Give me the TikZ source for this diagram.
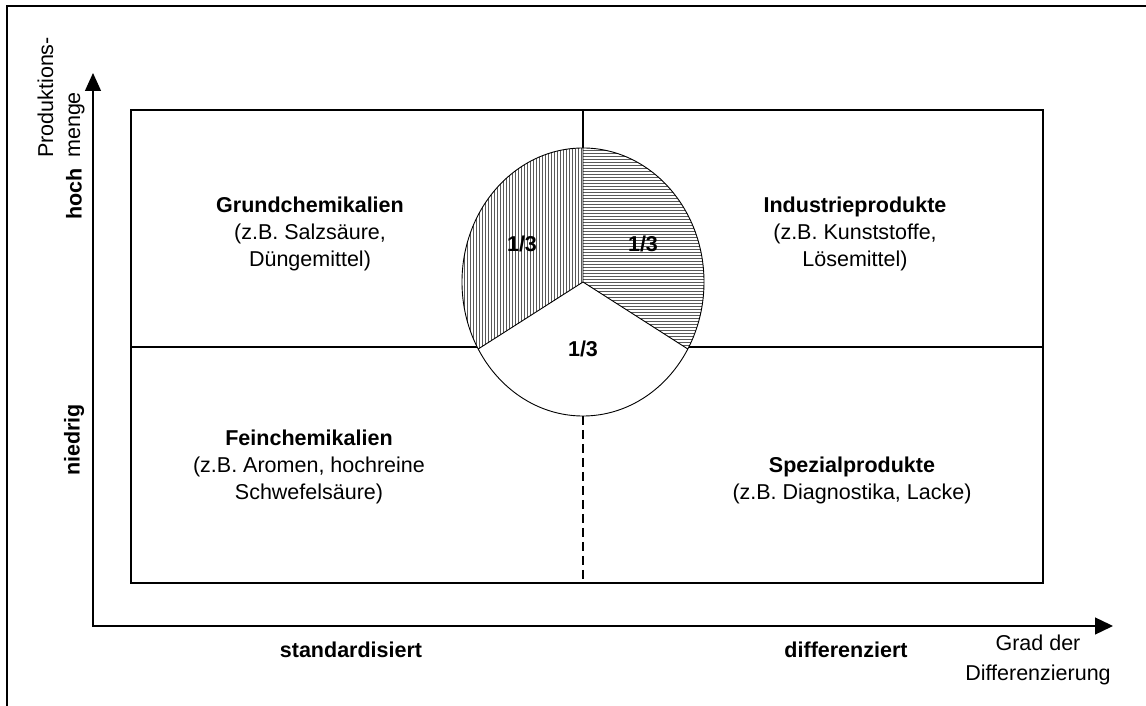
\documentclass[tikz,border=0pt]{standalone}
\usepackage{fontspec}
\setmainfont{Liberation Sans}
\usetikzlibrary{arrows.meta}
\begin{document}
\begin{tikzpicture}[x=1pt,y=1pt,
  txt/.style={font=\fontsize{21.5}{27}\selectfont, align=center, inner sep=0pt},
  btxt/.style={font=\fontsize{21.5}{27}\selectfont\bfseries, inner sep=0pt},
  axisline/.style={line width=1.3pt,
    {Triangle[length=18pt,width=16pt]}-{Triangle[length=18pt,width=17pt]}},
  boxline/.style={line width=1.5pt},
  midline/.style={line width=1.3pt},
  pieline/.style={line width=0.9pt},
  hatch/.style={line width=0.45pt, black!65},
]
\useasboundingbox (0,0) rectangle (1146,706);

% outer frame (top and left edge)
\draw[line width=2.4pt] (7,0) -- (7,700) -- (1146,700);

% axes
\coordinate (origin) at (93,80);
\coordinate (ytip) at (93,633);
\coordinate (xtip) at (1113,80);
\draw[axisline] (ytip) -- (origin) -- (xtip);

% portfolio matrix
\coordinate (boxsw) at (131,123);
\coordinate (boxne) at (1043,596);
\coordinate (midw) at (131,359);
\coordinate (mide) at (1043,359);
\coordinate (midn) at (583,596);
\coordinate (mids) at (583,123);
\draw[boxline] (boxsw) rectangle (boxne);
\draw[midline] (midw) -- (mide);

% pie chart
\coordinate (c) at (583,424);
\coordinate (ptop) at (583,558);
\coordinate (pbot) at (583,290);
\coordinate (pleft) at (478.2,357);
\coordinate (pright) at (687.8,357);
\draw[midline] (midn) -- (ptop);
\draw[midline, dash pattern=on 9pt off 5pt] (pbot) -- (mids);
\fill[white] (c) ellipse [x radius=121, y radius=134];
\begin{scope}
  \clip (c) -- (ptop) arc [start angle=90, end angle=210, x radius=121, y radius=134] -- cycle;
  \foreach \x in {461,464,...,584} \draw[hatch] (\x,280) -- (\x,565);
\end{scope}
\begin{scope}
  \clip (c) -- (pright) arc [start angle=-30, end angle=90, x radius=121, y radius=134] -- cycle;
  \foreach \y in {355,358,...,561} \draw[hatch] (575,\y) -- (710,\y);
\end{scope}
\draw[pieline] (c) ellipse [x radius=121, y radius=134];
\draw[pieline] (ptop) -- (c) -- (pleft);
\draw[pieline] (c) -- (pright);
\node[btxt] (thirdl) at (522,462) {1/3};
\node[btxt] (thirdr) at (643,462) {1/3};
\node[btxt] (thirdb) at (583,357) {1/3};

% quadrant labels
\node[txt] (grund) at (310,472) {\textbf{Grundchemikalien}\\(z.B. Salzsäure,\\Düngemittel)};
\node[txt] (indus) at (855,472) {\textbf{Industrieprodukte}\\(z.B. Kunststoffe,\\Lösemittel)};
\node[txt] (fein) at (309,239) {\textbf{Feinchemikalien}\\(z.B. Aromen, hochreine\\Schwefelsäure)};
\node[txt] (spez) at (852,226) {\textbf{Spezialprodukte}\\(z.B. Diagnostika, Lacke)};

% axis labels
\node[txt, rotate=90, align=left, anchor=west] (ylabel) at (61,548) {Produktions-\\menge};
\node[btxt, rotate=90] (hoch) at (74,512) {hoch};
\node[btxt, rotate=90] (niedrig) at (74,266) {niedrig};
\node[btxt] (std) at (351,56) {standardisiert};
\node[btxt] (diff) at (846,56) {differenziert};
\node[txt, font=\fontsize{21.5}{30}\selectfont] (xlabel) at (1038,46) {Grad der\\Differenzierung};
\end{tikzpicture}
\end{document}
